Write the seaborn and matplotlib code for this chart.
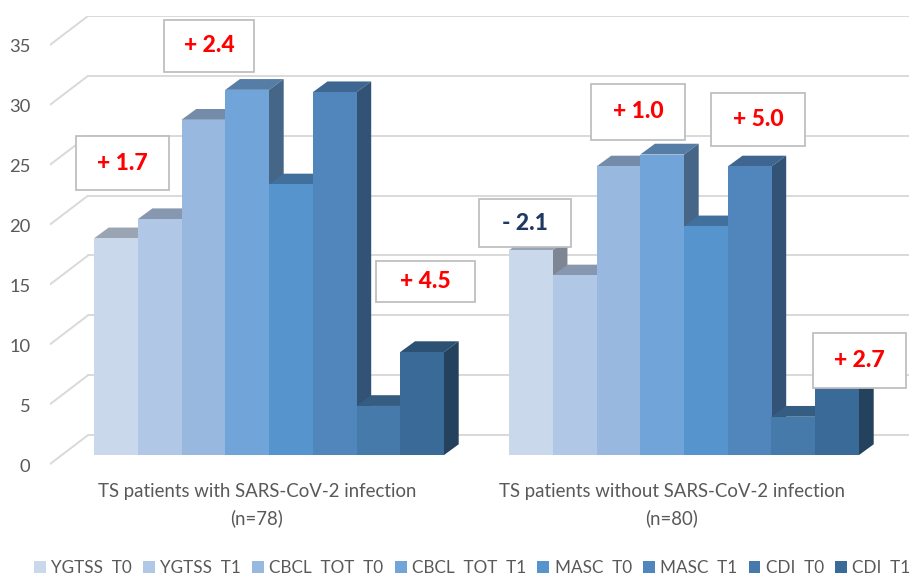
from matplotlib import pyplot as plt
from matplotlib.patches import Polygon, Rectangle
from matplotlib.colors import to_rgb
import numpy as np
import pandas
import seaborn as sns

# values
groups = ["TS patients with SARS-CoV-2 infection\n(n=78)",
          "TS patients without SARS-CoV-2 infection\n(n=80)"]
series = ["YGTSS  T0", "YGTSS  T1", "CBCL  TOT  T0", "CBCL  TOT  T1",
          "MASC  T0", "MASC  T1", "CDI  T0", "CDI  T1"]
with_infection = [18.1, 19.7, 28.0, 30.5, 22.6, 30.3, 4.1, 8.6]
without_infection = [17.1, 15.0, 24.1, 25.1, 19.1, 24.1, 3.2, 5.9]
colors = ["#CAD8EC", "#B1C7E6", "#98B8DF", "#71A5D9", "#5694CE", "#5186BD", "#467AAB", "#3A6A97"]
y_ticks = [0, 5, 10, 15, 20, 25, 30, 35]
change_labels = ["+ 1.7", "+ 2.4", "+ 4.5", "- 2.1", "+ 1.0", "+ 5.0", "+ 2.7"]
change_colors = ["#FF0000", "#FF0000", "#FF0000", "#1F3864", "#FF0000", "#FF0000", "#FF0000"]

W, H = 909, 575
# pixel scale of the front plane
PX_Y = 12.0
PX_X = 415.0
Y0_PX = 456.0
X0_PX = 269.0
DEPTH_X = 14.7 / PX_X
DEPTH_Y = 10.8 / PX_Y
WALL_DROP = 0.75
WALL_BACK = 20.0 / PX_Y
WALL_DX = 38.0 / PX_X

dataframe = pandas.DataFrame({
    "group": np.repeat(groups, len(series)),
    "series": series * 2,
    "value": with_infection + without_infection,
})

sns.set_theme(style="white")
plt.rcParams["font.family"] = ["Lato", "DejaVu Sans"]

fig = plt.figure(figsize=(W / 100, H / 100), dpi=100)
left, right, top, bottom = 50, W, 16, 465
ax = fig.add_axes([left / W, 1 - bottom / H, (right - left) / W, (bottom - top) / H])

g = sns.barplot(data=dataframe, x="group", y="value", hue="series", palette=colors,
                width=350 / PX_X, gap=0, saturation=1, linewidth=0, ax=ax)

ax.set_xlim((left - X0_PX) / PX_X, (right - X0_PX) / PX_X)
ax.set_ylim((Y0_PX - bottom) / PX_Y, (Y0_PX - top) / PX_Y)
sns.despine(ax=ax, left=True, bottom=True)
ax.set_facecolor("none")

# back wall and side wall lines
xmin = ax.get_xlim()[0]
for t in y_ticks:
    ax.plot([xmin, xmin + WALL_DX], [t - WALL_DROP, t + WALL_BACK], color="#D9D9D9", lw=1.4, zorder=1,
            solid_capstyle="round")
    ax.plot([xmin + WALL_DX, ax.get_xlim()[1]], [t + WALL_BACK, t + WALL_BACK], color="#D9D9D9", lw=1.4, zorder=1)

# fake 3D: top and side faces taken from the bars seaborn drew
for i, container in enumerate(ax.containers):
    base = np.array(to_rgb(colors[i]))
    for bar in container:
        x0 = bar.get_x()
        x1 = x0 + bar.get_width()
        h = bar.get_height()
        bar.set_zorder(10 + 2 * i + 1)
        ax.add_patch(Polygon([(x0, h), (x1, h), (x1 + DEPTH_X, h + DEPTH_Y), (x0 + DEPTH_X, h + DEPTH_Y)],
                             closed=True, facecolor=base * 0.76, edgecolor="none", zorder=10 + 2 * i))
        ax.add_patch(Polygon([(x1, 0), (x1 + DEPTH_X, DEPTH_Y), (x1 + DEPTH_X, h + DEPTH_Y), (x1, h)],
                             closed=True, facecolor=base * 0.62, edgecolor="none", zorder=10 + 2 * i))

# Axis text
ax.set_yticks([t - WALL_DROP - 0.08 for t in y_ticks])
ax.set_yticklabels([str(t) for t in y_ticks])
ax.set_xticks([-12 / PX_X, 1 - 12 / PX_X])
ax.set_xticklabels(groups)
ax.set_xlabel("")
ax.set_ylabel("")
ax.tick_params(axis="y", length=0, pad=14, labelsize=13.2, labelcolor="#595959")
ax.tick_params(axis="x", length=0, pad=13, labelsize=13.4, labelcolor="#595959")
for label in ax.get_xticklabels():
    label.set_linespacing(1.6)

# Legend
sns.move_legend(ax, "center left", bbox_to_anchor=(34 / W, 1 - 568 / H), bbox_transform=fig.transFigure,
                ncol=8, frameon=False, title=None, fontsize=12.3, labelcolor="#595959",
                handlelength=0.7, handleheight=0.7, handletextpad=0.3, columnspacing=0.66,
                borderpad=0, borderaxespad=0)

# Change boxes, pixel coordinates of the picture
boxes = [(76, 136, 169, 190), (164, 20, 254, 72), (376, 261, 475, 302), (479, 199, 571, 247),
         (591, 84, 685, 140), (711, 93, 805, 146), (813, 333, 906, 388)]
for (x0, y0, x1, y1), text, color in zip(boxes, change_labels, change_colors):
    fig.add_artist(Rectangle((x0 / W, 1 - y1 / H), (x1 - x0) / W, (y1 - y0) / H, transform=fig.transFigure,
                             facecolor="white", edgecolor="#BFBFBF", linewidth=1.3, zorder=50))
    fig.text((x0 + x1) / 2 / W, 1 - (y0 + y1) / 2 / H, text, color=color, fontsize=16.5, fontweight=900,
             ha="center", va="center", zorder=51)

plt.savefig("out.png", dpi=100)
